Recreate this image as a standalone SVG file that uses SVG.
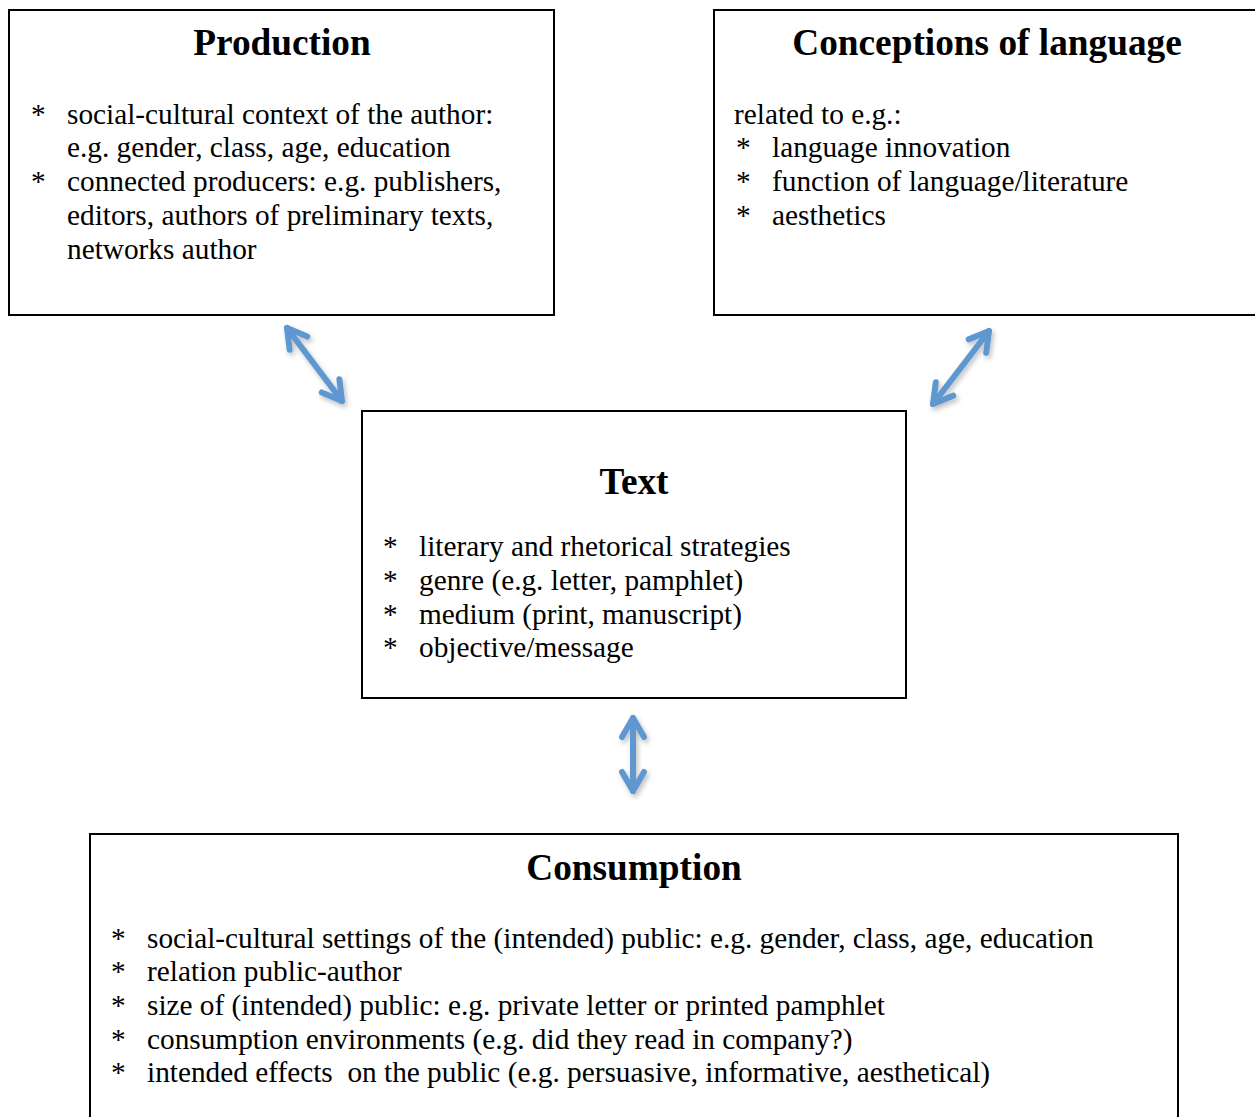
<svg xmlns="http://www.w3.org/2000/svg" width="1255" height="1117" viewBox="0 0 1255 1117">
<defs>
<style>
.box{fill:#fff;stroke:#000;stroke-width:2}
.title{font-family:"Liberation Serif","Times New Roman",serif;font-weight:bold;font-size:37.3px;fill:#000;text-anchor:middle}
.body{font-family:"Liberation Serif","Times New Roman",serif;font-size:29.3px;fill:#000;white-space:pre}
.conn{stroke:#5F98D0;stroke-width:6;stroke-linecap:round;fill:none;filter:url(#sh)}
</style>
<filter id="sh" filterUnits="userSpaceOnUse" x="0" y="0" width="1255" height="1117">
<feDropShadow dx="2" dy="3" stdDeviation="2.5" flood-color="#000" flood-opacity="0.25"/>
</filter>
<marker id="head" markerUnits="userSpaceOnUse" viewBox="-28 -16 34 32" refX="0" refY="0" markerWidth="34" markerHeight="32" orient="auto-start-reverse">
<path d="M-19,-11 L0,0 L-19,11" fill="none" stroke="#5F98D0" stroke-width="6" stroke-linecap="round" stroke-linejoin="round"/>
</marker>
</defs>
<rect width="1255" height="1117" fill="#fff"/>

<g id="production">
<rect class="box" x="9" y="10" width="545" height="305"/>
<text class="title" x="282" y="55">Production</text>
<text class="body" x="31" y="124">*</text>
<text class="body" x="67" y="124">social-cultural context of the author:</text>
<text class="body" x="67" y="157">e.g. gender, class, age, education</text>
<text class="body" x="31" y="191">*</text>
<text class="body" x="67" y="191">connected producers: e.g. publishers,</text>
<text class="body" x="67" y="225">editors, authors of preliminary texts,</text>
<text class="body" x="67" y="259">networks author</text>
</g>

<g id="conceptions">
<rect class="box" x="714" y="10" width="550" height="305"/>
<text class="title" x="987" y="55">Conceptions of language</text>
<text class="body" x="734" y="124">related to e.g.:</text>
<text class="body" x="736" y="157">*</text>
<text class="body" x="772" y="157">language innovation</text>
<text class="body" x="736" y="191">*</text>
<text class="body" x="772" y="191">function of language/literature</text>
<text class="body" x="736" y="225">*</text>
<text class="body" x="772" y="225">aesthetics</text>
</g>

<g id="text">
<rect class="box" x="362" y="411" width="544" height="287"/>
<text class="title" x="634" y="494">Text</text>
<text class="body" x="383" y="556">*</text>
<text class="body" x="419" y="556">literary and rhetorical strategies</text>
<text class="body" x="383" y="590">*</text>
<text class="body" x="419" y="590">genre (e.g. letter, pamphlet)</text>
<text class="body" x="383" y="624">*</text>
<text class="body" x="419" y="624">medium (print, manuscript)</text>
<text class="body" x="383" y="657">*</text>
<text class="body" x="419" y="657">objective/message</text>
</g>

<g id="consumption">
<rect class="box" x="90" y="834" width="1088" height="300"/>
<text class="title" x="634" y="880">Consumption</text>
<text class="body" x="111" y="948">*</text>
<text class="body" x="147" y="948">social-cultural settings of the (intended) public: e.g. gender, class, age, education</text>
<text class="body" x="111" y="981">*</text>
<text class="body" x="147" y="981">relation public-author</text>
<text class="body" x="111" y="1015">*</text>
<text class="body" x="147" y="1015">size of (intended) public: e.g. private letter or printed pamphlet</text>
<text class="body" x="111" y="1049">*</text>
<text class="body" x="147" y="1049">consumption environments (e.g. did they read in company?)</text>
<text class="body" x="111" y="1082">*</text>
<text class="body" x="147" y="1082">intended effects  on the public (e.g. persuasive, informative, aesthetical)</text>
</g>

<g id="connectors">
<line class="conn" x1="287" y1="328" x2="342" y2="401" marker-start="url(#head)" marker-end="url(#head)"/>
<line class="conn" x1="989" y1="331" x2="933" y2="404" marker-start="url(#head)" marker-end="url(#head)"/>
<line class="conn" x1="633" y1="718" x2="633" y2="791" marker-start="url(#head)" marker-end="url(#head)"/>
</g>
</svg>
